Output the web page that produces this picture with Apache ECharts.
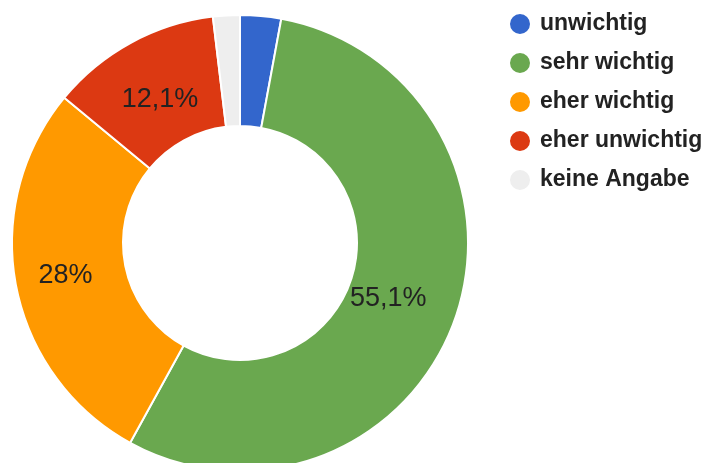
<!DOCTYPE html>
<html>
<head>
<meta charset="utf-8">
<script src="https://cdn.jsdelivr.net/npm/echarts@6/dist/echarts.min.js"></script>
<style>
  html, body { margin: 0; padding: 0; background: #fff; }
  #chart { width: 712px; height: 463px; }
</style>
</head>
<body>
<div id="chart"></div>
<script>
// Answer categories and their shares (percent)
const categories = ['unwichtig', 'sehr wichtig', 'eher wichtig', 'eher unwichtig', 'keine Angabe'];
const shares = [2.9, 55.1, 28, 12.1, 1.9];
const sliceColors = ['#3366cc', '#6aa84f', '#ff9900', '#dc3912', '#eeeeee'];

// Small nudges for the in-ring labels, per slice
const labelNudge = [[0, 0], [-17, -3], [-2, 0], [4, 11], [0, 0]];

function formatShare(v) {
  return String(v).replace('.', ',') + '%';
}

const chart = echarts.init(document.getElementById('chart'), null, { renderer: 'canvas' });

chart.setOption({
  animation: false,
  color: sliceColors,
  legend: {
    orient: 'vertical',
    left: 508,
    top: 12,
    padding: 0,
    icon: 'circle',
    itemWidth: 22,
    itemHeight: 22,
    itemGap: 15,
    textStyle: {
      fontFamily: 'Liberation Sans, Arial, sans-serif',
      fontWeight: 'bold',
      fontSize: 23,
      color: '#222',
      padding: [0, 0, 0, 4]
    },
    data: categories
  },
  series: [{
    type: 'pie',
    center: [240, 243],
    radius: [117, 228],
    startAngle: 90,
    clockwise: true,
    avoidLabelOverlap: false,
    itemStyle: { borderColor: '#fff', borderWidth: 2 },
    label: {
      show: true,
      position: 'inside',
      fontFamily: 'Liberation Sans, Arial, sans-serif',
      fontSize: 27,
      color: '#222',
      // values below 5 % stay unlabelled inside the ring
      formatter: p => (p.value >= 5 ? formatShare(p.value) : '')
    },
    labelLine: { show: false },
    emphasis: { disabled: true },
    data: categories.map((name, i) => ({
      name,
      value: shares[i],
      label: { offset: labelNudge[i] }
    }))
  }]
});
</script>
</body>
</html>
